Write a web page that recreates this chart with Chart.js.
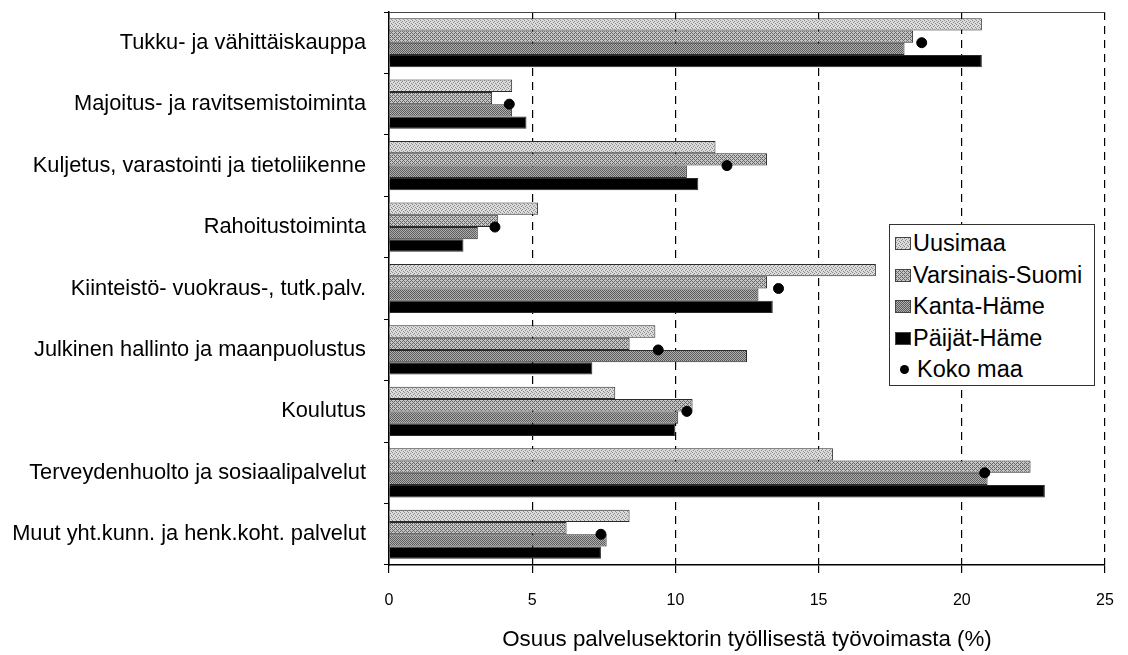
<!DOCTYPE html>
<html>
<head>
<meta charset="utf-8">
<script src="https://cdn.jsdelivr.net/npm/chart.js@4.4.1/dist/chart.umd.min.js"></script>
<style>
  html, body { margin: 0; padding: 0; background: #fff; }
  #wrap { position: relative; width: 1128px; height: 655px; }
  #legend { position: absolute; left: 889px; top: 224px; width: 206px; height: 162px;
    border: 1px solid #333; background: #fff; font-family: "Liberation Sans", Arial, sans-serif;
    font-size: 23.5px; color: #000; box-sizing: border-box; padding-top: 3px; white-space: nowrap; }
  .item { height: 31.5px; display: flex; align-items: center; }
  .sw { width: 16px; height: 13px; margin: 0 2px 0 5px; box-sizing: border-box; border: 1px solid #444; flex: none; }
  .dot { width: 9px; height: 9px; border-radius: 50%; background: #000; margin: 0 8px 0 10px; flex: none; }
</style>
</head>
<body>
<div id="wrap">
  <canvas id="c" width="1128" height="655"></canvas>
  <div id="legend"></div>
</div>
<script>
const categories = [
  "Tukku- ja vähittäiskauppa",
  "Majoitus- ja ravitsemistoiminta",
  "Kuljetus, varastointi ja tietoliikenne",
  "Rahoitustoiminta",
  "Kiinteistö- vuokraus-, tutk.palv.",
  "Julkinen hallinto ja maanpuolustus",
  "Koulutus",
  "Terveydenhuolto ja sosiaalipalvelut",
  "Muut yht.kunn. ja henk.koht. palvelut"
];
const seriesNames = ["Uusimaa", "Varsinais-Suomi", "Kanta-Häme", "Päijät-Häme", "Koko maa"];
const uusimaa    = [20.7, 4.3, 11.4, 5.2, 17.0, 9.3, 7.9, 15.5, 8.4];
const varsinais  = [18.3, 3.6, 13.2, 3.8, 13.2, 8.4, 10.6, 22.4, 6.2];
const kantaHame  = [18.0, 4.3, 10.4, 3.1, 12.9, 12.5, 10.1, 20.9, 7.6];
const paijatHame = [20.7, 4.8, 10.8, 2.6, 13.4, 7.1, 10.0, 22.9, 7.4];
const kokoMaa    = [18.6, 4.2, 11.8, 3.7, 13.6, 9.4, 10.4, 20.8, 7.4];
const xTicks = [0, 5, 10, 15, 20, 25];

function makePattern(kind) {
  const p = document.createElement('canvas');
  p.width = 4; p.height = 4;
  const g = p.getContext('2d');
  if (kind === 0) {
    g.fillStyle = '#dcdcdc'; g.fillRect(0, 0, 4, 4);
    g.fillStyle = '#8a8a8a';
    g.fillRect(0, 0, 1, 1); g.fillRect(2, 1, 1, 1); g.fillRect(1, 2, 1, 1); g.fillRect(3, 3, 1, 1);
  } else if (kind === 1) {
    g.fillStyle = '#c6c6c6'; g.fillRect(0, 0, 4, 4);
    g.fillStyle = '#666';
    for (let i = 0; i < 4; i++) g.fillRect(i, (3 - i), 1, 1);
    g.fillRect(0, 1, 1, 1); g.fillRect(2, 3, 1, 1);
  } else {
    g.fillStyle = '#b0b0b0'; g.fillRect(0, 0, 4, 4);
    g.fillStyle = '#5a5a5a';
    g.fillRect(0, 0, 1, 1); g.fillRect(2, 0, 1, 1); g.fillRect(1, 1, 1, 1); g.fillRect(3, 1, 1, 1);
    g.fillRect(0, 2, 1, 1); g.fillRect(2, 2, 1, 1); g.fillRect(1, 3, 1, 1); g.fillRect(3, 3, 1, 1);
  }
  return p;
}
const ctx = document.getElementById('c').getContext('2d');
const patCanvases = [makePattern(0), makePattern(1), makePattern(2)];
const fills = patCanvases.map(pc => ctx.createPattern(pc, 'repeat'));
fills.push('#000000');

const barSets = [uusimaa, varsinais, kantaHame, paijatHame].map((d, i) => ({
  type: 'bar',
  label: seriesNames[i],
  data: d,
  backgroundColor: fills[i],
  borderColor: '#2a2a2a',
  borderWidth: 1,
  categoryPercentage: 0.8,
  barPercentage: 1.0,
  order: 2
}));
const dotSet = {
  type: 'scatter',
  label: seriesNames[4],
  data: kokoMaa.map((v, i) => ({ x: v, y: categories[i] })),
  backgroundColor: '#000',
  borderColor: '#000',
  pointRadius: 5,
  pointHoverRadius: 5,
  showLine: false,
  order: 1
};

const topLine = {
  id: 'topLine',
  afterDraw(chart) {
    const a = chart.chartArea, g = chart.ctx;
    g.save();
    g.strokeStyle = '#444'; g.lineWidth = 1;
    g.beginPath(); g.moveTo(a.left, a.top + 0.5); g.lineTo(a.right, a.top + 0.5); g.stroke();
    g.restore();
  }
};

Chart.defaults.font.family = '"Liberation Sans", Arial, sans-serif';
Chart.defaults.color = '#000';

new Chart(ctx, {
  data: { labels: categories, datasets: [...barSets, dotSet] },
  options: {
    indexAxis: 'y',
    responsive: false,
    animation: false,
    layout: { padding: { left: 0, right: 23, top: 12, bottom: 2 } },
    plugins: { legend: { display: false }, tooltip: { enabled: false } },
    scales: {
      y: {
        type: 'category',
        labels: categories,
        offset: true,
        afterFit: s => { s.width = 389; s.paddingTop = 0; s.paddingBottom = 0; },
        grid: { display: true, drawOnChartArea: false, offset: true, tickLength: 5, color: '#000' },
        border: { display: true, color: '#000', width: 1.5 },
        ticks: { font: { size: 21.8 }, padding: 18, color: '#000', autoSkip: false }
      },
      x: {
        type: 'linear',
        min: 0, max: 25,
        afterBuildTicks: s => { s.ticks = xTicks.map(v => ({ value: v })); },
        afterFit: s => { s.height = 88; s.paddingLeft = 0; s.paddingRight = 0; },
        grid: { color: '#000', lineWidth: 1.2, tickLength: 8, drawTicks: true },
        border: { display: true, color: '#000', width: 1.5, dash: [8, 6] },
        ticks: { font: { size: 16 }, padding: 18, color: '#000' },
        title: { display: true, text: 'Osuus palvelusektorin työllisestä työvoimasta (%)',
          font: { size: 22.3 }, color: '#000', padding: { top: 6, bottom: 0 } }
      }
    }
  },
  plugins: [topLine]
});

const leg = document.getElementById('legend');
seriesNames.forEach((n, i) => {
  const it = document.createElement('div');
  it.className = 'item';
  const mark = document.createElement('div');
  if (i < 4) {
    mark.className = 'sw';
    if (i < 3) mark.style.backgroundImage = 'url(' + patCanvases[i].toDataURL() + ')';
    else mark.style.background = '#000';
  } else {
    mark.className = 'dot';
  }
  it.appendChild(mark);
  const t = document.createElement('span');
  t.textContent = n;
  it.appendChild(t);
  leg.appendChild(it);
});
</script>
</body>
</html>
